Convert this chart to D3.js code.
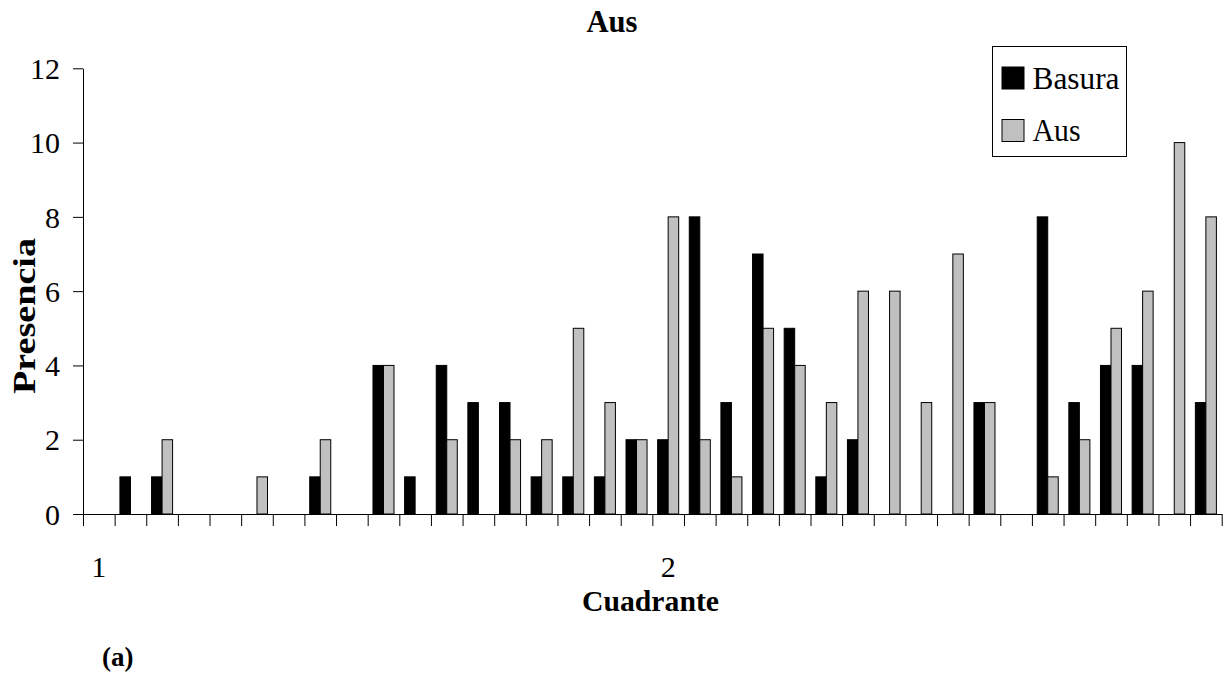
<!DOCTYPE html>
<html>
<head>
<meta charset="utf-8">
<script src="https://cdn.jsdelivr.net/npm/d3@7"></script>
<style>
    html, body { margin: 0; padding: 0; background: #fff; }
    svg text { font-family: "Liberation Serif", "Times New Roman", serif; fill: #000; }
</style>
</head>
<body>
<div id="chart"></div>
<script>
// Presencia por cuadrante: Basura vs Aus
const categoryLabels = [
    '1', '', '', '', '', '', '', '', '', '', '', '', '', '', '', '', '', '',
    '2', '', '', '', '', '', '', '', '', '', '', '', '', '', '', '', '', ''
];
const basura = [0, 1, 1, 0, 0, 0, 0, 1, 0, 4, 1, 4, 3, 3, 1, 1, 1, 2, 2, 8, 3, 7, 5, 1, 2, 0, 0, 0, 3, 0, 8, 3, 4, 4, 0, 3];
const aus = [0, 0, 2, 0, 0, 1, 0, 2, 0, 4, 0, 2, 0, 2, 2, 5, 3, 2, 8, 2, 1, 5, 4, 3, 6, 6, 3, 7, 3, 0, 1, 2, 5, 6, 10, 8];
const seriesNames = ['Basura', 'Aus'];
const seriesColors = ['#000000', '#c0c0c0'];
const yTicks = [0, 2, 4, 6, 8, 10, 12];

const width = 1224;
const height = 675;
const plot = { left: 83, right: 1221.7, top: 68.3, bottom: 514 };

const svg = d3.select('#chart')
    .append('svg')
    .attr('width', width)
    .attr('height', height);

const indices = categoryLabels.map((_, i) => i);

const x0 = d3.scaleBand()
    .domain(indices)
    .range([plot.left, plot.right])
    .paddingInner(0.335)
    .paddingOuter(0.1675);

const x1 = d3.scaleBand()
    .domain(seriesNames)
    .range([0, x0.bandwidth()]);

const xEdges = d3.scaleLinear()
    .domain([0, categoryLabels.length])
    .range([plot.left, plot.right]);

const y = d3.scaleLinear()
    .domain([0, 12])
    .range([plot.bottom, plot.top]);

const color = d3.scaleOrdinal().domain(seriesNames).range(seriesColors);

const rows = indices.map((i) => ({ index: i, values: [basura[i], aus[i]] }));

// barras
const groups = svg.append('g')
    .selectAll('g')
    .data(rows)
    .join('g')
    .attr('transform', (d) => `translate(${x0(d.index)},0)`);

groups.selectAll('rect')
    .data((d) => d.values.map((v, k) => ({ name: seriesNames[k], value: v })).filter((b) => b.value > 0))
    .join('rect')
    .attr('x', (b) => x1(b.name))
    .attr('y', (b) => y(b.value))
    .attr('width', x1.bandwidth())
    .attr('height', (b) => y(0) - y(b.value))
    .attr('fill', (b) => color(b.name))
    .attr('stroke', '#000')
    .attr('stroke-width', 1);

// eje Y
const yAxis = svg.append('g')
    .attr('transform', `translate(${plot.left},0)`)
    .call(d3.axisLeft(y).tickValues(yTicks).tickSize(10).tickPadding(13).tickSizeOuter(0));
yAxis.selectAll('text').attr('font-size', '30px').attr('dy', '0.34em');
yAxis.selectAll('line, path').attr('stroke', '#000');

// eje X: marcas en los límites de categoría
const xAxis = svg.append('g')
    .attr('transform', `translate(0,${plot.bottom})`)
    .call(d3.axisBottom(xEdges).tickValues(d3.range(categoryLabels.length + 1)).tickFormat('').tickSize(12).tickSizeOuter(0));
xAxis.selectAll('line, path').attr('stroke', '#000');

const xLabels = svg.append('g')
    .attr('transform', `translate(0,${plot.bottom})`)
    .call(d3.axisBottom(x0).tickFormat((i) => categoryLabels[i]).tickSize(0).tickPadding(42));
xLabels.select('.domain').remove();
xLabels.selectAll('text').attr('font-size', '30px');

// títulos
function squeezed(sel, length) {
    return sel.attr('textLength', length).attr('lengthAdjust', 'spacingAndGlyphs');
}

svg.append('text')
    .attr('x', 612)
    .attr('y', 32)
    .attr('text-anchor', 'middle')
    .attr('font-size', '32px')
    .attr('font-weight', 'bold')
    .text('Aus')
    .call(squeezed, 51);

svg.append('text')
    .attr('x', 650.5)
    .attr('y', 611)
    .attr('text-anchor', 'middle')
    .attr('font-size', '30px')
    .attr('font-weight', 'bold')
    .text('Cuadrante')
    .call(squeezed, 137);

svg.append('text')
    .attr('transform', 'translate(35,316) rotate(-90)')
    .attr('text-anchor', 'middle')
    .attr('font-size', '32px')
    .attr('font-weight', 'bold')
    .text('Presencia')
    .call(squeezed, 156);

svg.append('text')
    .attr('x', 102)
    .attr('y', 666)
    .attr('font-size', '27px')
    .attr('font-weight', 'bold')
    .text('(a)');

// leyenda
const legend = svg.append('g').attr('transform', 'translate(992.5,46.5)');
legend.append('rect')
    .attr('width', 134)
    .attr('height', 110)
    .attr('fill', '#fff')
    .attr('stroke', '#000');

const legendItems = legend.selectAll('g.item')
    .data(seriesNames)
    .join('g')
    .attr('class', 'item')
    .attr('transform', (_, i) => `translate(9.5,${20.5 + i * 52.5})`);

legendItems.append('rect')
    .attr('width', 22)
    .attr('height', 22)
    .attr('fill', (d) => color(d))
    .attr('stroke', '#000');

legendItems.append('text')
    .attr('x', 30.5)
    .attr('y', 21.5)
    .attr('font-size', '32px')
    .text((d) => d)
    .call(squeezed, (d) => (d === 'Basura' ? 87 : 48));
</script>
</body>
</html>
